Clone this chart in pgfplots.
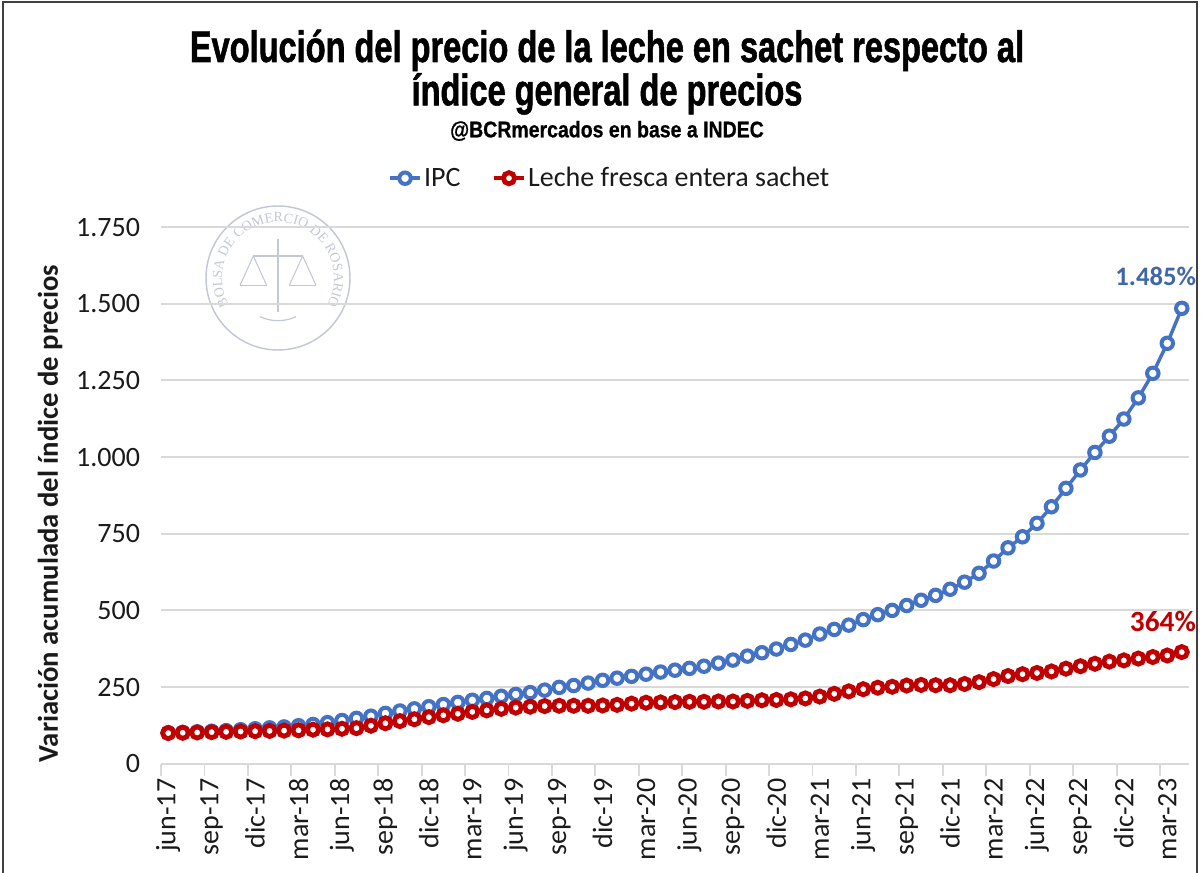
\documentclass[border=0pt]{standalone}
\usepackage{pgfplots}
\pgfplotsset{compat=1.18}
\usepackage{pgfplotstable}
\usepackage{fontspec}
\setmainfont{Carlito}
\newfontfamily\titlefont[FakeStretch=0.74, BoldFeatures={FakeBold=1.2}]{Liberation Sans}
\newfontfamily\subfont[FakeStretch=0.86, BoldFeatures={FakeBold=0.8}]{Liberation Sans}
\newfontfamily\wmfont{Liberation Serif}
\usetikzlibrary{decorations.text}
\definecolor{ipc}{HTML}{4472C4}
\definecolor{leche}{HTML}{C00000}
\definecolor{gridc}{HTML}{D9D9D9}
\definecolor{wm}{HTML}{C3C8D4}
\definecolor{lblblue}{HTML}{3F67A8}
\definecolor{txt}{HTML}{1A1A1A}

\pgfplotstableread{
i ipc leche
0 101 100
1 102 101
2 104 102
3 106 103
4 108 104
5 111 105
6 114 106
7 117 107
8 120 108
9 124 109
10 128 111
11 134 112
12 141 114
13 148 116
14 155 124
15 164 132
16 172 139
17 179 145
18 186 152
19 193 158
20 200 163
21 207 169
22 213 174
23 220 179
24 226 183
25 232 186
26 240 188
27 249 189
28 255 189
29 263 189
30 272 190
31 279 192
32 285 196
33 292 199
34 299 200
35 305 201
36 311 202
37 318 202
38 328 203
39 338 203
40 351 205
41 362 207
42 374 208
43 389 210
44 403 213
45 423 219
46 438 228
47 452 236
48 470 243
49 486 248
50 500 251
51 516 255
52 533 257
53 549 256
54 569 256
55 592 260
56 621 266
57 661 276
58 704 286
59 740 292
60 784 296
61 838 301
62 898 310
63 958 318
64 1015 326
65 1068 333
66 1124 337
67 1193 343
68 1273 348
69 1371 353
70 1485 364
}\datatable

\begin{document}
\begin{tikzpicture}
\path[use as bounding box] (0,0) rectangle (900.75pt,654pt);
% frame
\draw[color=black!75, line width=1.2pt] (2.25pt,-20pt) -- (2.25pt,652.5pt) -- (897.75pt,652.5pt) -- (897.75pt,-20pt);
% titles
\node[anchor=base, inner sep=0pt, text=black] at (455.25pt,607.5pt)
  {\titlefont\bfseries\fontsize{33}{33}\selectfont Evolución del precio de la leche en sachet respecto al};
\node[anchor=base, inner sep=0pt, text=black] at (455.25pt,575pt)
  {\titlefont\bfseries\fontsize{33}{33}\selectfont índice general de precios};
\node[anchor=base, inner sep=0pt, text=black] at (455.25pt,551pt)
  {\subfont\bfseries\fontsize{17}{17}\selectfont @BCRmercados en base a INDEC};
% watermark
\draw[wm, line width=1.1pt] (208.5pt,445.5pt) circle (54pt);
\path[decorate, decoration={text along path, text align=center,
   text={|\wmfont\fontsize{10.5}{10.5}\selectfont\color{wm}|BOLSA DE COMERCIO DE ROSARIO}}]
   (208.5pt,445.5pt) ++(230:42pt) arc (230:-50:42pt);
\draw[wm, line width=0.9pt] (208.5pt,445.5pt) ++(245:32pt) arc (245:295:32pt);
\draw[wm, line width=0.8pt] (190pt,462pt) -- (227pt,462pt);
\draw[wm, line width=0.8pt] (208.5pt,475pt) -- (208.5pt,420pt);
\draw[wm, line width=0.8pt] (180pt,440pt) -- (190pt,462pt) -- (200pt,440pt);
\draw[wm, line width=0.8pt] (217pt,440pt) -- (227pt,462pt) -- (237pt,440pt);
\draw[wm, line width=1pt] (180pt,440pt) -- (200pt,440pt) (217pt,440pt) -- (237pt,440pt);
\begin{axis}[
  at={(120.75pt,81.2pt)}, anchor=south west,
  scale only axis, width=771pt, height=402.5pt,
  xmin=-0.5, xmax=70.5, ymin=0, ymax=1750,
  axis line style={draw=none},
  ymajorgrids, grid style={gridc, line width=1.4pt},
  xtick={0,3,...,69},
  xticklabels={jun-17,sep-17,dic-17,mar-18,jun-18,sep-18,dic-18,mar-19,jun-19,sep-19,dic-19,mar-20,jun-20,sep-20,dic-20,mar-21,jun-21,sep-21,dic-21,mar-22,jun-22,sep-22,dic-22,mar-23},
  minor xtick={-0.5,2.5,...,68.5},
  xtick pos=bottom, ytick pos=left,
  tick align=outside,
  major tick length=0pt, minor tick length=9pt,
  minor tick style={gridc, line width=1.4pt},
  ytick={0,250,...,1750},
  yticklabels={0,250,500,750,1.000,1.250,1.500,1.750},
  ticklabel style={font=\fontsize{21}{21}\selectfont, text=txt},
  xticklabel style={rotate=90, anchor=east, inner sep=0pt},
  xticklabel shift=11pt,
  yticklabel style={anchor=east, inner sep=0pt},
  yticklabel shift=15.5pt,
  ylabel={Variación acumulada del índice de precios},
  ylabel style={at={(axis description cs:-0.108,0.466)}, anchor=center, rotate=0,
     font=\bfseries\fontsize{21.5}{21.5}\selectfont, text=txt},
  legend columns=2,
  legend style={at={(axis description cs:0.437,1.091)}, anchor=center, draw=none,
     fill=none, font=\fontsize{21}{21}\selectfont, text=txt,
     /tikz/every even column/.append style={column sep=22pt}},
  legend image code/.code={\draw[mark repeat=2,mark phase=2] plot coordinates {(0pt,0pt) (11pt,0pt) (22pt,0pt)};},
  clip=false,
]
\addplot[ipc, line width=2.6pt, mark=*, mark size=4.3pt,
   mark options={fill=white, draw=ipc, line width=3pt}] table[x=i, y=ipc] {\datatable};
\addlegendentry{IPC}
\addplot[leche, line width=2.6pt, mark=*, mark size=4.2pt,
   mark options={fill=white, draw=leche, line width=3.6pt}] table[x=i, y=leche] {\datatable};
\addlegendentry{Leche fresca entera sachet}
\node[text=lblblue, font=\bfseries\fontsize{20}{20}\selectfont, inner sep=0pt] at (axis cs:68.2,1590) {1.485\%};
\node[text=leche, font=\bfseries\fontsize{22}{22}\selectfont, inner sep=0pt] at (axis cs:68.7,465) {364\%};
\end{axis}
\end{tikzpicture}
\end{document}
